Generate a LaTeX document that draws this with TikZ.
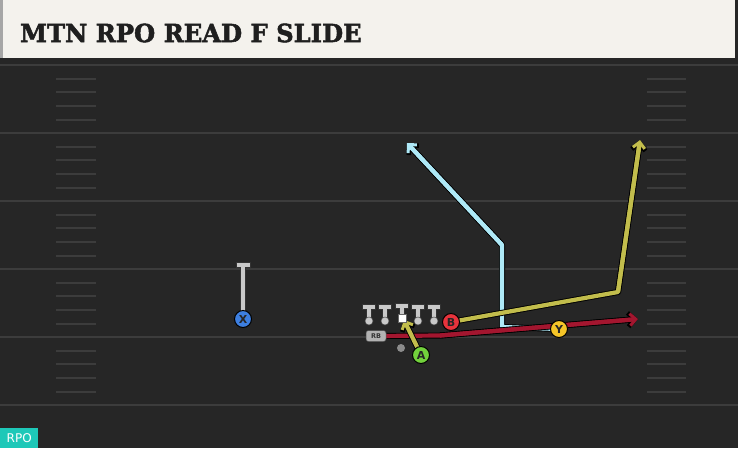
\documentclass[tikz,border=0pt]{standalone}
\usepackage{fontspec}
\usetikzlibrary{arrows.meta}
\newfontfamily\titlefont{DejaVu Serif}[BoldFeatures={FakeBold=2}]
\newfontfamily\lblfont{DejaVu Sans}
\definecolor{field}{HTML}{262626}
\definecolor{yardc}{HTML}{3C3C3C}
\definecolor{hdr}{HTML}{F4F2ED}
\definecolor{olive}{HTML}{C2BD4C}
\definecolor{skyb}{HTML}{AEE9F7}
\definecolor{crim}{HTML}{A3162F}
\definecolor{blk}{HTML}{C9C9C9}
\definecolor{pA}{HTML}{72D13C}
\definecolor{pB}{HTML}{E8333C}
\definecolor{pY}{HTML}{F5C528}
\definecolor{pX}{HTML}{3D7FE0}
\definecolor{teal}{HTML}{1EC8B8}
\tikzset{
  yard/.style={draw=yardc, line width=2.2pt},
  hashm/.style={draw=yardc, line width=1.8pt},
  player/.style={circle, draw=black, line width=1pt, minimum size=17pt, inner sep=0pt, font=\lblfont\bfseries\fontsize{11}{11}\selectfont, text=black!85},
  lman/.style={circle, fill=blk, draw=black!70, line width=0.5pt, minimum size=8pt, inner sep=0pt},
  routeback/.style={draw=black, line width=6pt, line join=round},
  routecol/.style={line width=4.2pt, line join=round},
  tip/.style={-{Straight Barb[length=6pt,width=12pt,line width=3pt]}},
  tipback/.style={-{Straight Barb[length=6.8pt,width=13.8pt,line width=4.6pt]}},
  blockback/.style={draw=black!80, line width=5.8pt},
  blockcol/.style={draw=blk, line width=4.2pt},
}
\begin{document}
\begin{tikzpicture}[x=1pt,y=-1pt]
\useasboundingbox (0,0) rectangle (738,448);
% field
\fill[field] (0,0) rectangle (738,448);
% yard lines
\foreach \yy in {65,133,201,269,337,405} {\draw[yard] (0,\yy) -- (738,\yy);}
% hash marks
\foreach \yy in {65,133,201,269,337} {
  \foreach \o in {14,27,41,55} {
    \draw[hashm] (56,\yy+\o) -- (96,\yy+\o);
    \draw[hashm] (647,\yy+\o) -- (686,\yy+\o);
  }
}
% header
\fill[black!85] (0,57) rectangle (738,62);
\fill[hdr] (0,0) rectangle (735,58);
\fill[black!35] (0,0) rectangle (3,58);
\node[anchor=west, inner sep=0pt, font=\titlefont\bfseries\fontsize{25}{25}\selectfont, text=black!88, xscale=0.97] (title) at (20,33) {MTN RPO READ F SLIDE};
% RPO label
\node[anchor=south west, fill=teal, inner sep=0pt, minimum width=38pt, minimum height=20pt, text=white, font=\lblfont\fontsize{12}{12}\selectfont] (rpo) at (0,448) {RPO};

% route coordinates
\coordinate (bluebend) at (502,245);
\coordinate (bluetip) at (407,143);
\coordinate (bluecorner) at (502,327);
\coordinate (olivebend) at (618,292);
\coordinate (olivetip) at (640,140);
\coordinate (redmid) at (440,335.5);
\coordinate (redtip) at (638,319);
\coordinate (atip) at (404,320);

% players (positions)
\coordinate (Apos) at (421,355);
\coordinate (Bpos) at (451,322);
\coordinate (Ypos) at (559,329);
\coordinate (RBpos) at (376,336);

% blue route (behind)
\draw[routeback] (Ypos) -- (bluecorner) -- (bluebend) -- ([shift={(3,3.2)}]bluetip);
\draw[routeback,tipback] (bluebend) -- (bluetip);
\draw[routecol,draw=skyb] (Ypos) -- (bluecorner) -- (bluebend) -- ([shift={(3,3.2)}]bluetip);
\draw[routecol,draw=skyb,tip] (bluebend) -- (bluetip);

% olive route from B
\draw[routeback] (Bpos) -- (olivebend) -- ([shift={(-0.5,4)}]olivetip);
\draw[routeback,tipback] (olivebend) -- (olivetip);
\draw[routecol,draw=olive] (Bpos) -- (olivebend) -- ([shift={(-0.5,4)}]olivetip);
\draw[routecol,draw=olive,tip] (olivebend) -- (olivetip);

% red route from RB
\draw[routeback] (RBpos) -- (redmid) -- ([shift={(-4,0.4)}]redtip);
\draw[routeback,tipback] (redmid) -- (redtip);
\draw[routecol,draw=crim] (RBpos) -- (redmid) -- ([shift={(-4,0.4)}]redtip);
\draw[routecol,draw=crim,tip] (redmid) -- (redtip);

% olive from A to mesh
\draw[routeback,tipback] (Apos) -- (atip);
\draw[routecol,draw=olive,tip] (Apos) -- (atip);

% X with block stem
\coordinate (Xtop) at (243,265);
\draw[blockback] (243,319) -- (Xtop);
\draw[draw=black!80, line width=5.8pt] (235.5,265) -- (250.5,265);
\draw[blockcol] (243,319) -- (Xtop);
\draw[draw=blk, line width=4.2pt] (236.5,265) -- (249.5,265);
\node[player, fill=pX] (X) at (243,319) {X};

% linemen
\foreach \i/\xx in {1/369,2/385,4/418,5/434} {
  \draw[blockback] (\xx,321) -- (\xx,307);
  \draw[draw=black!80, line width=5.8pt] (\xx-7,307) -- (\xx+7,307);
  \draw[blockcol] (\xx,321) -- (\xx,307);
  \draw[draw=blk, line width=4.2pt] (\xx-6,307) -- (\xx+6,307);
  \node[lman] (L\i) at (\xx,321) {};
}
\draw[blockback] (402,318) -- (402,306);
\draw[draw=black!80, line width=5.8pt] (395,306) -- (409,306);
\draw[blockcol] (402,318) -- (402,306);
\draw[draw=blk, line width=4.2pt] (396,306) -- (408,306);
\node[draw=black!60, fill=white, minimum size=8.5pt, inner sep=0pt, line width=0.4pt] (C) at (402,318) {};

% other players
\node[circle, fill=black!45, minimum size=8pt, inner sep=0pt] (QB) at (401,348) {};
\node[rounded corners=2.5pt, fill=black!30, draw=black!70, line width=0.5pt, minimum width=20pt, minimum height=11pt, inner sep=0pt, font=\lblfont\bfseries\fontsize{6.5}{6.5}\selectfont, text=black!80] (RB) at (RBpos) {RB};
\node[player, fill=pA] (A) at (Apos) {A};
\node[player, fill=pB] (B) at (Bpos) {B};
\node[player, fill=pY] (Y) at (Ypos) {Y};
\end{tikzpicture}
\end{document}
